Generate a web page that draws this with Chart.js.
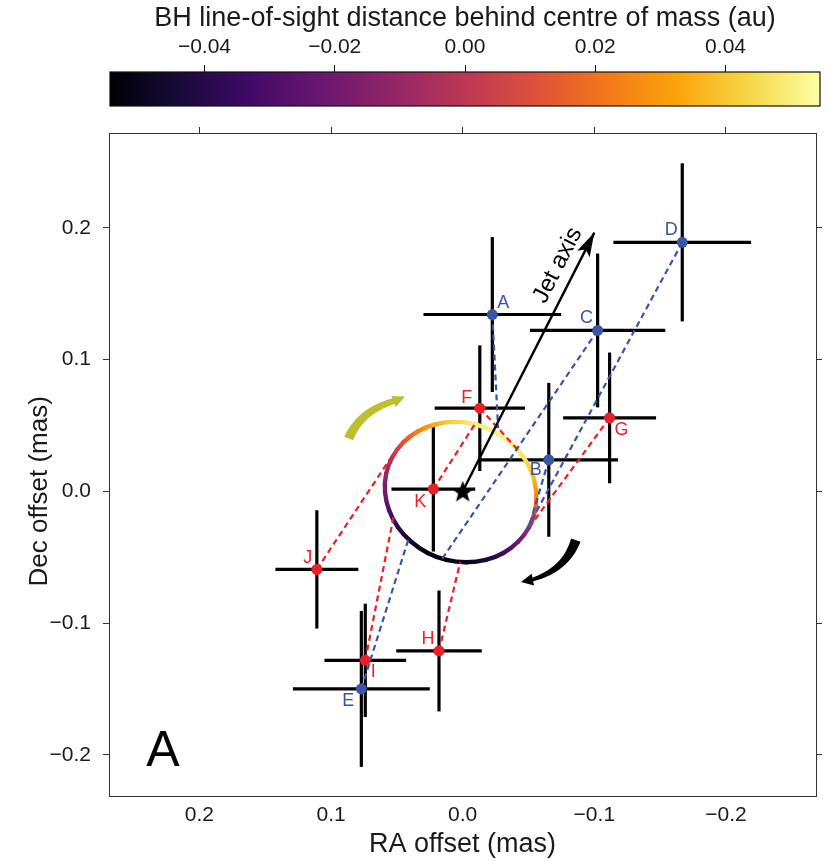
<!DOCTYPE html>
<html><head><meta charset="utf-8">
<script src="https://cdn.jsdelivr.net/npm/chart.js@4.4.0/dist/chart.umd.min.js"></script>
<style>
html,body{margin:0;padding:0;background:#fff;}
#wrap{position:relative;width:829px;height:861px;}
#main,#cb{position:absolute;left:0;top:0;}
</style></head><body>
<div id="wrap">
<canvas id="main" width="829" height="861"></canvas>
<canvas id="cb" width="829" height="122"></canvas>
</div>
<script>
// ---------------- data ----------------
const pointLabels = ['A','B','C','D','E','F','G','H','I','J','K'];
const pointGroup  = ['blue','blue','blue','blue','blue','red','red','red','red','red','red'];
const pointRA     = [-0.0225,-0.0654,-0.1025,-0.1668, 0.0770,-0.0130,-0.1116, 0.0180, 0.0740, 0.1108, 0.0223];
const pointDec    = [ 0.1342, 0.0239, 0.1221, 0.1890,-0.1500, 0.0631, 0.0558,-0.1212,-0.1283,-0.0593, 0.0017];
const pointRAErr  = [ 0.0523, 0.0526, 0.0514, 0.0523, 0.0520, 0.0343, 0.0353, 0.0325, 0.0310, 0.0315, 0.0318];
const pointDecErr = [ 0.0588, 0.0584, 0.0584, 0.0600, 0.0592, 0.0477, 0.0496, 0.0459, 0.0430, 0.0449, 0.0474];
// model position on the orbit that each observed point is linked to
const linkRA  = [-0.0269,-0.0503, 0.0155,-0.0488, 0.0412,-0.0435,-0.0518, 0.0019, 0.0526, 0.0548,-0.0095];
const linkDec = [ 0.0480,-0.0272,-0.0511,-0.0287,-0.0363, 0.0297,-0.0256,-0.0537,-0.0196, 0.0252, 0.0514];
// BH orbit (RA, Dec) and line-of-sight distance (au)
const orbitRA  = [-0.0560,-0.0530,-0.0461,-0.0361,-0.0236,-0.0093, 0.0057, 0.0205, 0.0339, 0.0452, 0.0534, 0.0582, 0.0590, 0.0559, 0.0492, 0.0391, 0.0266, 0.0123,-0.0027,-0.0175,-0.0309,-0.0421,-0.0504,-0.0551,-0.0560];
const orbitDec = [-0.0006, 0.0132, 0.0260, 0.0371, 0.0456, 0.0509, 0.0527, 0.0509, 0.0456, 0.0371, 0.0260, 0.0132,-0.0006,-0.0144,-0.0273,-0.0383,-0.0468,-0.0521,-0.0539,-0.0521,-0.0468,-0.0383,-0.0273,-0.0144,-0.0006];
const orbitZ   = [ 0.0283, 0.0392, 0.0469, 0.0501, 0.0512, 0.0491, 0.0436, 0.0349, 0.0240, 0.0109, 0.0000,-0.0109,-0.0196,-0.0283,-0.0382,-0.0469,-0.0512,-0.0523,-0.0501,-0.0436,-0.0338,-0.0218,-0.0076, 0.0109, 0.0283];
const centreRA = [0], centreDec = [0];
const jetRA = [0, -0.1000], jetDec = [0, 0.1964];
const jetLabelPos = [-0.0722, 0.1716];
const panelLabelPos = [0.2278, -0.1977];
// rotation-sense arrows: [start, control, body end, tip]
const cwArrowRA  = [0.0866, 0.0775, 0.0511, 0.0439];
const cwArrowDec = [0.0401, 0.0616, 0.0688, 0.0719];
const ccArrowRA  = [-0.0859,-0.0783,-0.0518,-0.0443];
const ccArrowDec = [-0.0370,-0.0598,-0.0674,-0.0689];
const raTicks  = [0.2, 0.1, 0.0, -0.1, -0.2];
const decTicks = [0.2, 0.1, 0.0, -0.1, -0.2];
const cbTicks  = [-0.04, -0.02, 0.00, 0.02, 0.04];
const cbTitle = 'BH line-of-sight distance behind centre of mass (au)';
const xTitle = 'RA offset (mas)';
const yTitle = 'Dec offset (mas)';
const jetLabel = 'Jet axis';
const panelLabel = 'A';

// ---------------- styling ----------------
const FONT = "'Liberation Sans', Arial, Helvetica, sans-serif";
Chart.defaults.font.family = FONT;
const BLUE = '#3a55a5', RED = '#ea1f27', TXT = '#1a1a1a', AX = '#333';
const CB_MIN = -0.0545, CB_MAX = 0.0545;
const X_MIN = -0.2684, X_MAX = 0.2687, Y_MIN = -0.2313, Y_MAX = 0.272;
const INF = ['#000004','#160b39','#420a68','#6a176e','#932667','#bc3754','#dd513a','#f37819','#fca50a','#f6d746','#fcffa4'];
const INFRGB = INF.map(h => [1,3,5].map(i => parseInt(h.substr(i,2),16)));
function inferno(t){
  t = Math.max(0, Math.min(1, t));
  const s = t*10, i = Math.min(9, Math.floor(s)), f = s - i;
  const a = INFRGB[i], b = INFRGB[i+1];
  return 'rgb(' + a.map((v,k)=>Math.round(v + (b[k]-v)*f)).join(',') + ')';
}
const zColor = z => inferno((z - CB_MIN)/(CB_MAX - CB_MIN));
const fmt = d => v => (v < -1e-9 ? '\u2212' : '') + Math.abs(v).toFixed(d);
const setTicks = arr => s => { s.ticks = arr.map(v => ({value: v})); };

// star marker
const starImg = document.createElement('canvas');
starImg.width = 28; starImg.height = 28;
(function(){
  const c = starImg.getContext('2d'); c.fillStyle = '#000'; c.beginPath();
  const R = 11.5, r = 4.8;
  for (let k = 0; k < 10; k++){
    const rad = (k % 2 ? r : R), a = -Math.PI/2 + k*Math.PI/5;
    const x = 14 + rad*Math.cos(a), y = 15 + rad*Math.sin(a);
    k ? c.lineTo(x,y) : c.moveTo(x,y);
  }
  c.closePath(); c.fill();
})();

// ---------------- datasets ----------------
const datasets = [];
['blue','red'].forEach(g => {
  const col = g === 'blue' ? BLUE : RED;
  datasets.push({ order: 0, data: pointRA.map((x,i)=>({x, y: pointDec[i]})).filter((p,i)=>pointGroup[i]===g),
    pointRadius: 5.5, pointBorderWidth: 0, backgroundColor: col, borderColor: col, showLine: false });
});
datasets.push({ order: 0, data: centreRA.map((x,i)=>({x, y: centreDec[i]})), pointStyle: starImg, pointRadius: 12, showLine:false });
datasets.push({ order: 1, data: jetRA.map((x,i)=>({x, y: jetDec[i]})), showLine: true, borderColor: '#000', borderWidth: 2.4, pointRadius: 0 });
pointRA.forEach((x,i) => {
  datasets.push({ order: 2, data: [{x, y: pointDec[i]}, {x: linkRA[i], y: linkDec[i]}], showLine: true,
    borderColor: pointGroup[i]==='blue' ? BLUE : RED, borderWidth: 2.2, borderDash: [6,4], pointRadius: 0 });
});
datasets.push({ order: 3, data: orbitRA.map((x,i)=>({x, y: orbitDec[i]})), showLine: true, pointRadius: 0,
  borderWidth: 4.4, tension: 0.35, borderCapStyle: 'round', borderJoinStyle: 'round',
  segment: { borderColor: ctx => {
    const c = ctx.chart.ctx, p0 = ctx.p0, p1 = ctx.p1;
    const g = c.createLinearGradient(p0.x, p0.y, p1.x, p1.y);
    g.addColorStop(0, zColor(orbitZ[ctx.p0DataIndex]));
    g.addColorStop(1, zColor(orbitZ[ctx.p1DataIndex]));
    return g;
  } } });
pointRA.forEach((x,i) => {
  datasets.push({ order: 4, data: [{x: x - pointRAErr[i], y: pointDec[i]}, {x: x + pointRAErr[i], y: pointDec[i]}],
    showLine: true, borderColor: '#000', borderWidth: 3.2, pointRadius: 0 });
  datasets.push({ order: 4, data: [{x, y: pointDec[i] - pointDecErr[i]}, {x, y: pointDec[i] + pointDecErr[i]}],
    showLine: true, borderColor: '#000', borderWidth: 3.2, pointRadius: 0 });
});

// ---------------- annotation plugin ----------------
function curlArrow(ctx, P, w0, w1, headHalf, color){
  const [p0,p1,p2,tip] = P; const N = 40, L = [], R = [];
  for (let i = 0; i <= N; i++){
    const t = i/N, m = 1-t;
    const x = m*m*p0.x + 2*m*t*p1.x + t*t*p2.x, y = m*m*p0.y + 2*m*t*p1.y + t*t*p2.y;
    const dx = 2*m*(p1.x-p0.x) + 2*t*(p2.x-p1.x), dy = 2*m*(p1.y-p0.y) + 2*t*(p2.y-p1.y);
    const l = Math.hypot(dx,dy), nx = -dy/l, ny = dx/l, w = (w0 + (w1-w0)*t)/2;
    L.push([x+nx*w, y+ny*w]); R.push([x-nx*w, y-ny*w]);
  }
  ctx.fillStyle = color; ctx.beginPath();
  L.forEach((p,i)=> i ? ctx.lineTo(p[0],p[1]) : ctx.moveTo(p[0],p[1]));
  R.reverse().forEach(p=>ctx.lineTo(p[0],p[1])); ctx.closePath(); ctx.fill();
  const hx = tip.x-p2.x, hy = tip.y-p2.y, hl = Math.hypot(hx,hy), ux = hx/hl, uy = hy/hl;
  const bx = p2.x - ux*2, by = p2.y - uy*2;
  ctx.beginPath(); ctx.moveTo(tip.x, tip.y);
  ctx.lineTo(bx - uy*headHalf, by + ux*headHalf);
  ctx.lineTo(bx + uy*headHalf, by - ux*headHalf);
  ctx.closePath(); ctx.fill();
}
const annot = {
  id: 'annot',
  afterDatasetsDraw(chart, args, opts){
    const {ctx, scales:{x, y}} = chart;
    const px = (a,b) => ({x: x.getPixelForValue(a), y: y.getPixelForValue(b)});
    ctx.save();
    curlArrow(ctx, cwArrowRA.map((a,i)=>px(a, cwArrowDec[i])), 9.5, 6, 6, '#bcbf2e');
    curlArrow(ctx, ccArrowRA.map((a,i)=>px(a, ccArrowDec[i])), 10, 3.5, 6, '#000');
    const j0 = px(jetRA[0], jetDec[0]), j1 = px(jetRA[1], jetDec[1]);
    const ang = Math.atan2(j1.y-j0.y, j1.x-j0.x), ux = Math.cos(ang), uy = Math.sin(ang);
    const hl = 24, hw = 7;
    ctx.fillStyle = '#000'; ctx.beginPath(); ctx.moveTo(j1.x, j1.y);
    ctx.lineTo(j1.x - ux*hl - uy*hw, j1.y - uy*hl + ux*hw);
    ctx.lineTo(j1.x - ux*(hl-5), j1.y - uy*(hl-5));
    ctx.lineTo(j1.x - ux*hl + uy*hw, j1.y - uy*hl - ux*hw);
    ctx.closePath(); ctx.fill();
    const jl = px(jetLabelPos[0], jetLabelPos[1]);
    ctx.save(); ctx.translate(jl.x, jl.y); ctx.rotate(ang);
    ctx.font = '24px ' + FONT; ctx.fillStyle = '#000'; ctx.textAlign = 'center'; ctx.textBaseline = 'middle';
    ctx.fillText(jetLabel, 0, 0); ctx.restore();
    ctx.font = '18px ' + FONT; ctx.textAlign = 'center'; ctx.textBaseline = 'middle';
    pointLabels.forEach((lab,i) => {
      const p = px(pointRA[i], pointDec[i]), o = opts.offsets[lab];
      ctx.fillStyle = pointGroup[i]==='blue' ? BLUE : RED;
      ctx.fillText(lab, p.x + o[0], p.y + o[1]);
    });
    const pl = px(panelLabelPos[0], panelLabelPos[1]);
    ctx.font = '50px ' + FONT; ctx.fillStyle = '#000';
    ctx.fillText(panelLabel, pl.x, pl.y);
    // y-axis title, centred on Dec = 0
    ctx.save(); ctx.translate(40, y.getPixelForValue(0)); ctx.rotate(-Math.PI/2);
    ctx.font = '26px ' + FONT; ctx.fillStyle = TXT; ctx.textAlign = 'center'; ctx.textBaseline = 'middle';
    ctx.fillText(yTitle, 0, 0); ctx.restore();
    ctx.restore();
  }
};

// ---------------- main chart ----------------
const tickFont = {family: FONT, size: 21};
new Chart(document.getElementById('main'), {
  type: 'scatter',
  data: { datasets },
  plugins: [annot],
  options: {
    responsive: false, animation: false, events: [],
    layout: { padding: 0 },
    plugins: { legend: {display:false}, tooltip: {enabled:false},
      annot: { offsets: {A:[11,-11], B:[-13,10], C:[-11,-12], D:[-11,-12], E:[-13,12], F:[-13,-10], G:[12,12], H:[-11,-12], I:[8,12], J:[-9,-11], K:[-13,13]} } },
    scales: {
      x: { type:'linear', position:'bottom', min:X_MIN, max:X_MAX, reverse:true,
        afterBuildTicks: setTicks(raTicks), afterFit: s => { s.height = 65; },
        ticks: { callback: fmt(1), font: tickFont, color: TXT, padding: 7, maxRotation: 0, autoSkip: false },
        grid: { drawOnChartArea:false, drawTicks:false },
        border: { color: AX, width: 1 },
        title: { display:true, text: xTitle, font:{family:FONT, size:27}, color: TXT, padding:{top:0, bottom:0} } },
      xTop: { type:'linear', position:'top', min:X_MIN, max:X_MAX, reverse:true,
        afterBuildTicks: setTicks(raTicks), afterFit: s => { s.height = 133; },
        ticks: { display:false },
        grid: { drawOnChartArea:false, drawTicks:true, tickLength:6, tickColor: AX },
        border: { color: AX, width: 1 } },
      y: { type:'linear', position:'left', min:Y_MIN, max:Y_MAX,
        afterBuildTicks: setTicks(decTicks), afterFit: s => { s.width = 109; },
        ticks: { callback: fmt(1), font: tickFont, color: TXT, padding: 12 },
        grid: { drawOnChartArea:false, drawTicks:true, tickLength:6, tickColor: AX },
        border: { color: AX, width: 1 },
        title: { display:false } },
      yRight: { type:'linear', position:'right', min:Y_MIN, max:Y_MAX,
        afterBuildTicks: setTicks(decTicks), afterFit: s => { s.width = 10; },
        ticks: { display:false },
        grid: { drawOnChartArea:false, drawTicks:true, tickLength:6, tickColor: AX },
        border: { color: AX, width: 1 } }
    }
  }
});

// ---------------- colour bar ----------------
const cbFill = {
  id: 'cbFill',
  beforeDatasetsDraw(chart){
    const {ctx, chartArea: a} = chart;
    const g = ctx.createLinearGradient(a.left, 0, a.right, 0);
    INF.forEach((c,i) => g.addColorStop(i/(INF.length-1), c));
    ctx.save(); ctx.fillStyle = g; ctx.fillRect(a.left, a.top, a.right-a.left, a.bottom-a.top);
    ctx.strokeStyle = '#111'; ctx.lineWidth = 1.2;
    ctx.strokeRect(a.left, a.top, a.right-a.left, a.bottom-a.top); ctx.restore();
  }
};
new Chart(document.getElementById('cb'), {
  type: 'scatter',
  data: { datasets: [{ data: [] }] },
  plugins: [cbFill],
  options: {
    responsive:false, animation:false, events: [],
    layout: { padding: { left:110, right:9, top:0, bottom:16 } },
    plugins: { legend:{display:false}, tooltip:{enabled:false} },
    scales: {
      x: { type:'linear', position:'top', min:CB_MIN, max:CB_MAX,
        afterBuildTicks: setTicks(cbTicks), afterFit: s => { s.height = 72; },
        ticks: { callback: fmt(2), font: tickFont, color: TXT, padding: 5, maxRotation:0, autoSkip:false },
        grid: { drawOnChartArea:false, drawTicks:true, tickLength:7, tickColor:'#111' },
        border: { display:false },
        title: { display:true, text: cbTitle, font:{family:FONT, size:27}, color: TXT, padding:{top:2, bottom:0} } },
      y: { display:false, min:0, max:1 }
    }
  }
});
</script>
</body></html>
